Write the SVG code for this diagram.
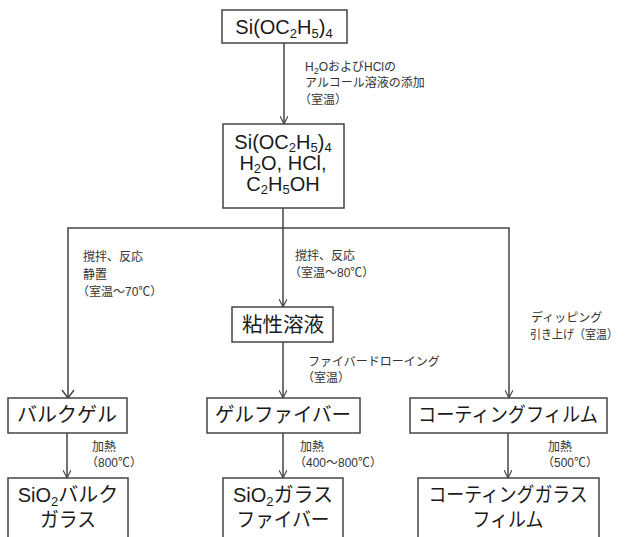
<svg xmlns="http://www.w3.org/2000/svg" width="625" height="537" viewBox="0 0 625 537">
<defs>
<marker id="arr" viewBox="0 0 10 10" refX="10" refY="5" markerWidth="8" markerHeight="8" markerUnits="userSpaceOnUse" orient="auto">
<path d="M0,0 L10,5 L0,10" fill="none" stroke="#444" stroke-width="1.4"/>
</marker>
<style>
.box{fill:#fff;stroke:#444;stroke-width:1.5}
.big{font-family:"Liberation Sans","Noto Sans CJK JP",sans-serif;font-size:20px;fill:#1a1a1a;text-anchor:middle}
.lbl{font-family:"Liberation Sans","Noto Sans CJK JP",sans-serif;font-size:12px;fill:#333}
.ln{fill:none;stroke:#444;stroke-width:1.5}
.sub{font-size:13px}
</style>
</defs>
<rect width="625" height="537" fill="#fff"/>
<g id="connectors">
<line class="ln" x1="284" y1="43" x2="284" y2="124" marker-end="url(#arr)"/>
<line class="ln" x1="283" y1="208" x2="283" y2="307" marker-end="url(#arr)"/>
<polyline class="ln" points="68,398 68,228 509,228 509,398" marker-end="url(#arr)"/>
<line class="ln" x1="283" y1="342" x2="283" y2="398" marker-end="url(#arr)"/>
<line class="ln" x1="67" y1="433" x2="67" y2="478" marker-end="url(#arr)"/>
<line class="ln" x1="283" y1="433" x2="283" y2="478" marker-end="url(#arr)"/>
<line class="ln" x1="508" y1="433" x2="508" y2="478" marker-end="url(#arr)"/>
<path d="M62,390 L68,398 L74,390" fill="none" stroke="#444" stroke-width="1.4"/>
</g>
<g id="labels">
<text class="lbl" x="305" y="71">H<tspan font-size="9" dy="3">2</tspan><tspan dy="-3">OおよびHClの</tspan></text>
<text class="lbl" x="305" y="87">アルコール溶液の添加</text>
<text class="lbl" x="299" y="104">（室温）</text>
<text class="lbl" x="83" y="261">撹拌、反応</text>
<text class="lbl" x="83" y="279">静置</text>
<text class="lbl" x="77" y="296">（室温～70℃）</text>
<text class="lbl" x="295" y="260">撹拌、反応</text>
<text class="lbl" x="289" y="277">（室温～80℃）</text>
<text class="lbl" x="308" y="366">ファイバードローイング</text>
<text class="lbl" x="302" y="382">（室温）</text>
<text class="lbl" x="531" y="322">ディッピング</text>
<text class="lbl" x="530" y="339" textLength="88" lengthAdjust="spacingAndGlyphs">引き上げ（室温）</text>
<text class="lbl" x="92" y="451">加熱</text>
<text class="lbl" x="86" y="467">（800℃）</text>
<text class="lbl" x="300" y="451">加熱</text>
<text class="lbl" x="294" y="467">（400～800℃）</text>
<text class="lbl" x="548" y="451">加熱</text>
<text class="lbl" x="542" y="467">（500℃）</text>
</g>
<g id="n1">
<rect class="box" x="222" y="10" width="125" height="33"/>
<text class="big" x="284" y="34" font-size="21">Si(OC<tspan class="sub" dy="4">2</tspan><tspan dy="-4">H</tspan><tspan class="sub" dy="4">5</tspan><tspan dy="-4">)</tspan><tspan class="sub" dy="4">4</tspan></text>
</g>
<g id="n2">
<rect class="box" x="223" y="124" width="121" height="84"/>
<text class="big" x="283" y="149" font-size="19.5">Si(OC<tspan class="sub" dy="3">2</tspan><tspan dy="-3">H</tspan><tspan class="sub" dy="3">5</tspan><tspan dy="-3">)</tspan><tspan class="sub" dy="3">4</tspan></text>
<text class="big" x="283" y="170" font-size="19.5">H<tspan class="sub" dy="3">2</tspan><tspan dy="-3">O, HCl,</tspan></text>
<text class="big" x="283" y="191" font-size="19.5">C<tspan class="sub" dy="3">2</tspan><tspan dy="-3">H</tspan><tspan class="sub" dy="3">5</tspan><tspan dy="-3">OH</tspan></text>
</g>
<g id="n3">
<rect class="box" x="232" y="307" width="101" height="35"/>
<text class="big" x="283" y="332" textLength="82" lengthAdjust="spacingAndGlyphs">粘性溶液</text>
</g>
<g id="n4">
<rect class="box" x="8" y="398" width="119" height="35"/>
<text class="big" x="67" y="422" textLength="100" lengthAdjust="spacingAndGlyphs">バルクゲル</text>
</g>
<g id="n5">
<rect class="box" x="207" y="398" width="153" height="35"/>
<text class="big" x="283" y="422" textLength="136" lengthAdjust="spacingAndGlyphs">ゲルファイバー</text>
</g>
<g id="n6">
<rect class="box" x="410" y="398" width="197" height="35"/>
<text class="big" x="508" y="422" textLength="180" lengthAdjust="spacingAndGlyphs">コーティングフィルム</text>
</g>
<g id="n7">
<rect class="box" x="8" y="478" width="120" height="64"/>
<text class="big" x="68" y="502">SiO<tspan class="sub" dy="4">2</tspan><tspan dy="-4">バルク</tspan></text>
<text class="big" x="68" y="527" textLength="56" lengthAdjust="spacingAndGlyphs">ガラス</text>
</g>
<g id="n8">
<rect class="box" x="223" y="478" width="120" height="64"/>
<text class="big" x="283" y="502">SiO<tspan class="sub" dy="4">2</tspan><tspan dy="-4">ガラス</tspan></text>
<text class="big" x="283" y="527" textLength="93" lengthAdjust="spacingAndGlyphs">ファイバー</text>
</g>
<g id="n9">
<rect class="box" x="418" y="478" width="181" height="64"/>
<text class="big" x="508" y="502" textLength="159" lengthAdjust="spacingAndGlyphs">コーティングガラス</text>
<text class="big" x="508" y="527" textLength="71" lengthAdjust="spacingAndGlyphs">フィルム</text>
</g>
</svg>
